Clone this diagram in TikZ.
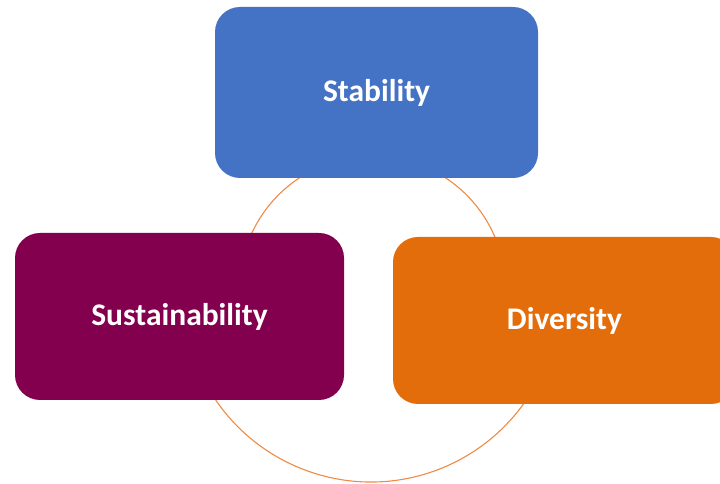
\documentclass[tikz,border=0pt]{standalone}
\usepackage{fontspec}
\setmainfont{Carlito}
\definecolor{stabblue}{HTML}{4472C4}
\definecolor{sustpurple}{HTML}{83004F}
\definecolor{divorange}{HTML}{E36C0B}
\definecolor{ringorange}{HTML}{F08A45}
\begin{document}
\begin{tikzpicture}[x=1pt,y=1pt,
  block/.style={rounded corners=25pt, inner sep=0pt, text=white,
    font=\fontsize{31.5}{36}\selectfont\bfseries},
  ring/.style={draw=ringorange, line width=1.1pt}]
  \useasboundingbox (0,0) rectangle (720,484);
  \clip (0,0) rectangle (720,484);
  % centres of the upper and lower cycle rings
  \coordinate (ctop) at (372.5,195);
  \coordinate (cbot) at (371,190);
  % rings, drawn first so the blocks hide their ends
  \draw[ring] (ctop) ++(110:133) arc[start angle=110, end angle=170, radius=133];
  \draw[ring] (ctop) ++(70:133) arc[start angle=70, end angle=10, radius=133];
  \draw[ring] (cbot) ++(200:188) arc[start angle=200, end angle=340, radius=188];
  % blocks
  \node[block, fill=stabblue, minimum width=323pt, minimum height=171pt]
    (stab) at (376.5,391.5) {Stability};
  \node[block, fill=sustpurple, minimum width=329pt, minimum height=167pt]
    (sust) at (179.5,167.5) {Sustainability};
  \node[block, fill=divorange, minimum width=343pt, minimum height=167pt]
    (div) at (564.5,163.5) {Diversity};
\end{tikzpicture}
\end{document}
